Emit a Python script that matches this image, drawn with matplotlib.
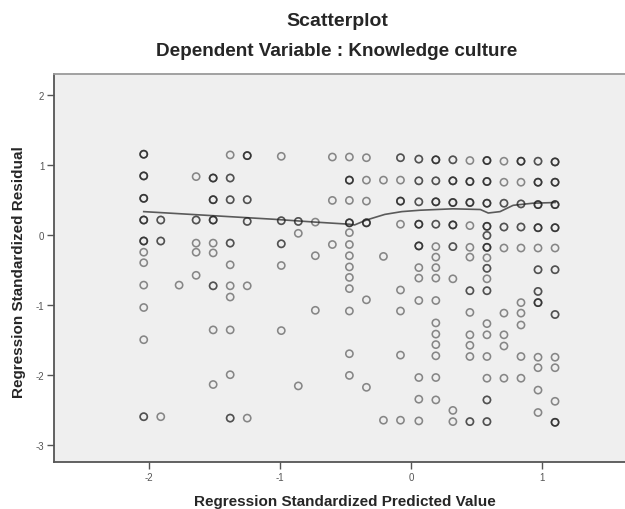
import matplotlib.pyplot as plt
import numpy as np

plt.rcParams['font.family'] = ['Liberation Sans', 'DejaVu Sans']
plt.rcParams['axes.unicode_minus'] = False

# standardized predicted value of each group of cases
predicted = [-2.04, -1.91, -1.77, -1.64, -1.51, -1.38, -1.25, -0.99, -0.86, -0.73,
             -0.60, -0.47, -0.34, -0.21, -0.08, 0.06, 0.19, 0.32, 0.45, 0.58,
             0.71, 0.84, 0.97, 1.10]

# standardized residuals for the cases at each predicted value (repeats = tied cases)
residuals = [
    [1.15, 1.15, 1.15, 0.84, 0.84, 0.84, 0.52, 0.52, 0.52, 0.21, 0.21, 0.21,
     -0.09, -0.09, -0.09, -0.25, -0.40, -0.72, -1.04, -1.50, -2.60, -2.60],
    [0.21, 0.21, -0.09, -0.09, -2.60],
    [-0.72],
    [0.83, 0.21, 0.21, -0.12, -0.25, -0.58],
    [0.81, 0.81, 0.81, 0.50, 0.50, 0.50, 0.21, 0.21, 0.21, -0.12, -0.26,
     -0.73, -0.73, -1.36, -2.14],
    [1.14, 0.81, 0.81, 0.50, 0.50, -0.12, -0.12, -0.43, -0.73, -0.89, -1.36,
     -2.00, -2.62, -2.62],
    [1.13, 1.13, 1.13, 0.50, 0.50, 0.19, 0.19, -0.73, -2.62],
    [1.12, 0.20, 0.20, -0.13, -0.13, -0.44, -1.37],
    [0.19, 0.19, 0.02, -2.16],
    [0.18, -0.30, -1.08],
    [1.11, 0.49, -0.14],
    [1.11, 0.78, 0.78, 0.78, 0.49, 0.17, 0.17, 0.17, 0.03, -0.14, -0.30, -0.46,
     -0.61, -0.77, -1.09, -1.70, -2.01],
    [1.10, 0.78, 0.48, 0.17, 0.17, 0.17, -0.93, -2.18],
    [0.78, -0.31, -2.65],
    [1.10, 1.10, 0.78, 0.48, 0.48, 0.48, 0.15, -0.79, -1.09, -1.72, -2.65],
    [1.08, 1.08, 0.77, 0.77, 0.47, 0.47, 0.15, 0.15, 0.15, -0.16, -0.16, -0.16,
     -0.47, -0.62, -0.94, -2.04, -2.35, -2.66],
    [1.07, 1.07, 1.07, 0.77, 0.77, 0.47, 0.47, 0.47, 0.15, 0.15, -0.17, -0.32,
     -0.47, -0.62, -0.94, -1.26, -1.42, -1.57, -1.73, -2.04, -2.36],
    [1.07, 1.07, 0.77, 0.77, 0.77, 0.46, 0.46, 0.46, 0.14, 0.14, 0.14, -0.17,
     -0.17, -0.63, -2.51, -2.67],
    [1.06, 0.76, 0.76, 0.76, 0.46, 0.46, 0.46, 0.13, -0.18, -0.32, -0.80,
     -0.80, -1.11, -1.43, -1.58, -1.74, -2.67, -2.67],
    [1.06, 1.06, 1.06, 0.76, 0.76, 0.76, 0.45, 0.45, 0.45, 0.12, 0.12, 0.12,
     -0.01, -0.01, -0.18, -0.18, -0.18, -0.33, -0.48, -0.48, -0.63, -0.80,
     -0.80, -1.27, -1.43, -1.74, -2.05, -2.36, -2.36, -2.67, -2.67],
    [1.05, 0.75, 0.45, 0.45, 0.11, 0.11, -0.19, -1.12, -1.43, -1.59, -2.05],
    [1.05, 1.05, 1.05, 0.75, 0.44, 0.44, 0.11, 0.11, -0.19, -0.97, -1.12,
     -1.29, -1.74, -2.05],
    [1.05, 1.05, 0.75, 0.75, 0.75, 0.43, 0.43, 0.43, 0.10, 0.10, 0.10, -0.19,
     -0.50, -0.50, -0.81, -0.81, -0.97, -0.97, -0.97, -1.75, -1.90, -2.22, -2.54],
    [1.04, 1.04, 1.04, 0.75, 0.75, 0.75, 0.43, 0.43, 0.43, 0.10, 0.10, 0.10,
     -0.19, -0.50, -0.50, -1.14, -1.14, -1.75, -1.90, -2.38, -2.68, -2.68, -2.68],
]

# loess fit line through the residuals
fit_x = [-2.04, -1.04, -0.73, -0.47, -0.43, -0.34, -0.20, -0.07, 0.07, 0.32,
         0.53, 0.59, 0.68, 0.78, 0.93, 1.10]
fit_y = [0.33, 0.22, 0.18, 0.15, 0.14, 0.21, 0.29, 0.33, 0.35, 0.37,
         0.36, 0.31, 0.33, 0.42, 0.45, 0.46]

xs = np.concatenate([[p] * len(r) for p, r in zip(predicted, residuals)])
ys = np.concatenate(residuals)

fig = plt.figure(figsize=(6.25, 5.1), dpi=100, facecolor='white')
ax = fig.add_axes([54 / 625, 1 - 463 / 510, 571 / 625, 388 / 510])
ax.set_facecolor('#efefef')

ax.scatter(xs, ys, s=27, facecolors='none', edgecolors='#1e1e1e',
           linewidths=1.15, alpha=0.5, zorder=3)
ax.plot(fit_x, fit_y, color='#5a5a5a', lw=1.2, zorder=2)

ax.set_xlim(-2.725, 1.634)
ax.set_ylim(-3.247, 2.296)
ax.set_xticks([-2, -1, 0, 1])
ax.set_yticks([2, 1, 0, -1, -2, -3])
ax.tick_params(direction='out', length=5, width=1, color='#555555',
               labelsize=7, labelcolor='#555555', pad=2)

for side in ['left', 'bottom']:
    ax.spines[side].set_color('#555555')
    ax.spines[side].set_linewidth(1.3)
ax.spines['top'].set_color('#9a9a9a')
ax.spines['top'].set_linewidth(1.3)
ax.spines['right'].set_visible(False)

fig.text(337 / 625, 1 - 22 / 510, 'Scatterplot', ha='center', va='center',
         fontsize=14, fontweight='bold', color='#262626')
fig.text(337 / 625, 1 - 52 / 510, 'Dependent Variable : Knowledge culture',
         ha='center', va='center', fontsize=13.6, fontweight='bold',
         color='#262626')
fig.text(345 / 625, 1 - 502 / 510, 'Regression Standardized Predicted Value',
         ha='center', va='center', fontsize=11, fontweight='bold',
         color='#262626')
fig.text(19 / 625, 1 - 272 / 510, 'Regression Standardized Residual',
         ha='center', va='center', rotation=90, fontsize=11,
         fontweight='bold', color='#262626')

fig.savefig('out.png', dpi=100, facecolor='white')
